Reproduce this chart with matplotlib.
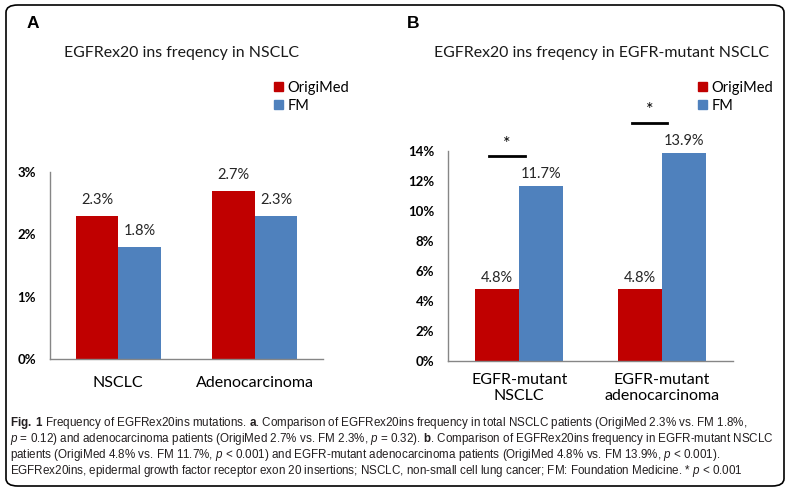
import matplotlib
matplotlib.use('Agg')
import matplotlib.pyplot as plt
from matplotlib.patches import FancyBboxPatch, Patch

# data
cats_a = ['NSCLC', 'Adenocarcinoma']
origimed_a = [2.3, 2.7]
fm_a = [1.8, 2.3]
cats_b = ['EGFR-mutant\nNSCLC', 'EGFR-mutant\nadenocarcinoma']
origimed_b = [4.8, 4.8]
fm_b = [11.7, 13.9]
ticks_a = [0, 1, 2, 3]
ticks_b = [0, 2, 4, 6, 8, 10, 12, 14]
series = ['OrigiMed', 'FM']

RED = '#C00000'
BLUE = '#4F81BD'
AXC = '#868686'
FONT = ['Lato', 'DejaVu Sans']
CAPFONT = ['Liberation Sans Narrow', 'Liberation Sans', 'DejaVu Sans']

plt.rcParams['font.family'] = FONT
plt.rcParams['mathtext.fontset'] = 'custom'
plt.rcParams['mathtext.rm'] = 'Liberation Sans'
plt.rcParams['mathtext.it'] = 'Liberation Sans:italic'
plt.rcParams['mathtext.bf'] = 'Liberation Sans:bold'

W, H = 790, 493
fig = plt.figure(figsize=(W / 100, H / 100), dpi=100)


def fx(px):
    return px / W


def fy(py):
    return 1 - py / H


def bar_panel(rect, cats, s1, s2, ticks, lab_off, cat_pad):
    ax = fig.add_axes(rect)
    x = range(len(cats))
    w = 0.31
    b1 = ax.bar([i - w / 2 for i in x], s1, w, color=RED, label=series[0])
    b2 = ax.bar([i + w / 2 for i in x], s2, w, color=BLUE, label=series[1])
    for bars, vals in ((b1, s1), (b2, s2)):
        for r, v in zip(bars, vals):
            ax.annotate('%.1f%%' % v, (r.get_x() + r.get_width() / 2, v),
                        xytext=(0, lab_off), textcoords='offset points',
                        ha='center', va='bottom', fontsize=10.5, color='#262626')
    ax.set_xlim(-0.5, len(cats) - 0.5)
    ax.set_ylim(0, ticks[-1])
    ax.set_yticks(ticks)
    ax.set_yticklabels(['%d%%' % t for t in ticks], fontweight='bold', fontsize=9.5)
    ax.set_xticks(list(x))
    ax.set_xticklabels(cats, fontsize=11.5, linespacing=1.1)
    ax.tick_params(axis='y', length=0, pad=10)
    ax.tick_params(axis='x', length=0, pad=cat_pad)
    for s in ('top', 'right'):
        ax.spines[s].set_visible(False)
    for s in ('left', 'bottom'):
        ax.spines[s].set_color(AXC)
        ax.spines[s].set_linewidth(1.0)
    ax.patch.set_visible(False)
    return ax


ax_a = bar_panel([fx(50), fy(359), fx(323) - fx(50), fy(172) - fy(359)],
                 cats_a, origimed_a, fm_a, ticks_a, 6, 12)
ax_b = bar_panel([fx(448), fy(361), fx(733) - fx(448), fy(151) - fy(361)],
                 cats_b, origimed_b, fm_b, ticks_b, 3, 9)

for ax, lx in ((ax_a, 274), (ax_b, 698)):
    h = [Patch(color=RED), Patch(color=BLUE)]
    ax.legend(h, series, loc='upper left', bbox_to_anchor=(fx(lx), fy(81)),
              bbox_transform=fig.transFigure, frameon=False, fontsize=10.5,
              handlelength=0.6, handleheight=0.6, handletextpad=0.35,
              labelspacing=0.25, borderpad=0, borderaxespad=0)

# significance marks
ax_b.plot([-0.21, 0.04], [13.67, 13.67], color='black', lw=2, clip_on=False)
ax_b.text(-0.085, 14.5, '*', ha='center', va='center', fontsize=13, clip_on=False)
ax_b.plot([0.79, 1.04], [15.87, 15.87], color='black', lw=2, clip_on=False)
ax_b.text(0.915, 16.7, '*', ha='center', va='center', fontsize=13, clip_on=False)

# panel letters and titles
fig.text(fx(27), fy(24), 'A', fontsize=12.5, fontweight='bold', va='center',
         family=['Liberation Sans', 'DejaVu Sans'])
fig.text(fx(407), fy(24), 'B', fontsize=12.5, fontweight='bold', va='center',
         family=['Liberation Sans', 'DejaVu Sans'])
fig.text(fx(181), fy(53), 'EGFRex20 ins freqency in NSCLC', fontsize=11.4,
         ha='center', va='center', color='#1a1a1a')
fig.text(fx(601), fy(53), 'EGFRex20 ins freqency in EGFR-mutant NSCLC', fontsize=11.4,
         ha='center', va='center', color='#1a1a1a')

# caption
cap = [
    r'$\mathbf{Fig.}$ $\mathbf{1}$ Frequency of EGFRex20ins mutations. $\mathbf{a}$. Comparison of EGFRex20ins frequency in total NSCLC patients (OrigiMed 2.3% vs. FM 1.8%,',
    r'$\mathit{p}$ = 0.12) and adenocarcinoma patients (OrigiMed 2.7% vs. FM 2.3%, $\mathit{p}$ = 0.32). $\mathbf{b}$. Comparison of EGFRex20ins frequency in EGFR-mutant NSCLC',
    r'patients (OrigiMed 4.8% vs. FM 11.7%, $\mathit{p}$ < 0.001) and EGFR-mutant adenocarcinoma patients (OrigiMed 4.8% vs. FM 13.9%, $\mathit{p}$ < 0.001).',
    r'EGFRex20ins, epidermal growth factor receptor exon 20 insertions; NSCLC, non-small cell lung cancer; FM: Foundation Medicine. * $\mathit{p}$ < 0.001',
]
for i, line in enumerate(cap):
    fig.text(fx(10), fy(423 + 16 * i), line, fontsize=8.4, va='center',
             family=CAPFONT, color='#231F20')

# frame
frame = FancyBboxPatch((fx(6), fy(486)), fx(784) - fx(6), fy(5) - fy(486),
                       boxstyle='round,pad=0,rounding_size=0.015',
                       transform=fig.transFigure, fill=False, ec='black', lw=1.2)
fig.patches.append(frame)

fig.savefig('out.png', dpi=100)
